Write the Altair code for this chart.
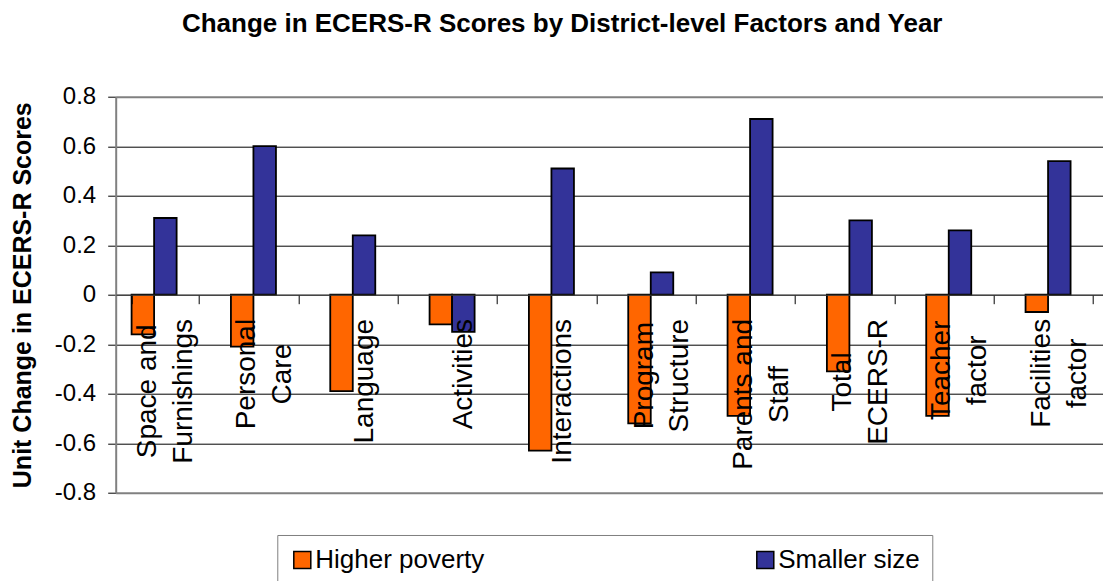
import altair as alt
import pandas as pd

FONT = "Liberation Sans"
LABEL_SIZE = 28

# Category labels, one list of lines per category
category_lines = [
    ["Space and", "Furnishings"],
    ["Personal", "Care"],
    ["Language"],
    ["Activities"],
    ["Interactions"],
    ["Program", "Structure"],
    ["Parents and", "Staff"],
    ["Total", "ECERS-R"],
    ["Teacher", "factor"],
    ["Facilities", "factor"],
]

series_names = ["Higher poverty", "Smaller size"]
series_colors = ["#FF6600", "#333399"]

higher_poverty = [-0.16, -0.21, -0.39, -0.12, -0.63, -0.52, -0.49, -0.31, -0.49, -0.07]
smaller_size = [0.31, 0.60, 0.24, -0.15, 0.51, 0.09, 0.71, 0.30, 0.26, 0.54]

y_ticks = [-0.8, -0.6, -0.4, -0.2, 0, 0.2, 0.4, 0.6, 0.8]

# Arial / Liberation Sans advance widths (1/1000 em); the rotated labels are
# centred lines whose longest line starts just below the zero line.
ADVANCE = {
    " ": 278, "-": 333, "A": 667, "C": 722, "E": 667, "F": 611, "I": 278,
    "L": 556, "P": 667, "R": 722, "S": 667, "T": 611, "a": 556, "c": 500,
    "d": 556, "e": 556, "f": 278, "g": 556, "h": 556, "i": 222, "l": 222,
    "m": 833, "n": 556, "o": 556, "p": 556, "r": 333, "s": 500, "t": 278,
    "u": 556, "v": 500, "y": 500,
}


def text_px(s, size):
    return sum(ADVANCE.get(ch, 556) for ch in s) * size / 1000


categories = ["|".join(lines) for lines in category_lines]

rows = []
for cat, hp, ss in zip(categories, higher_poverty, smaller_size):
    rows.append({"category": cat, "series": series_names[0], "value": hp})
    rows.append({"category": cat, "series": series_names[1], "value": ss})
df = pd.DataFrame(rows)

# distance from tick end to the centre of each rotated label block
label_gap = 14.7
padding_conditions = [
    {
        "test": f"datum.value === '{cat}'",
        "value": round(label_gap + max(text_px(l, LABEL_SIZE) for l in lines) / 2, 1),
    }
    for cat, lines in zip(categories, category_lines)
]
line_height = 36
offset_condition = {
    "condition": {"test": "isValid(datum.value) && indexof(datum.value, '|') >= 0",
                  "value": -line_height / 2},
    "value": 0,
}

border_test = "abs(datum.value) > 0.79"

chart = (
    alt.Chart(df)
    .mark_bar(stroke="black", strokeWidth=1.8)
    .encode(
        x=alt.X(
            "category:N",
            sort=categories,
            scale=alt.Scale(
                domain=categories,
                range=[0, 993.3],
                paddingInner=0.32,
                paddingOuter=0.16,
            ),
            axis=alt.Axis(
                title=None,
                offset=-198,
                labelAngle=270,
                labelAlign="center",
                labelBaseline="middle",
                labelExpr="isValid(datum.value) ? split(datum.value, '|') : ''",
                labelFont=FONT,
                labelFontSize=LABEL_SIZE,
                labelLineHeight=line_height,
                labelPadding={"condition": padding_conditions, "value": label_gap},
                labelOffset=offset_condition,
                labelColor="black",
                labelLimit=400,
                labelOverlap=False,
                labelBound=False,
                tickBand="extent",
                tickSize=9,
                tickColor="black",
                tickWidth=1,
                domainColor="#404040",
                domainWidth=1,
                grid=False,
                zindex=1,
            ),
        ),
        xOffset=alt.XOffset(
            "series:N",
            scale=alt.Scale(domain=series_names + ["(none)"]),
        ),
        y=alt.Y(
            "value:Q",
            scale=alt.Scale(domain=[-0.8, 0.8], nice=False),
            axis=alt.Axis(
                title="Unit Change in ECERS-R Scores",
                titleFont=FONT,
                titleFontSize=25,
                titleFontWeight="bold",
                titleColor="black",
                titleX=-80,
                titleY=198,
                values=y_ticks,
                format=".1~f",
                labelExpr="replace(datum.label, '\u2212', '-')",
                labelFont=FONT,
                labelFontSize=24,
                labelColor="black",
                labelPadding=12,
                tickSize=8,
                tickColor="black",
                domainColor="#808080",
                domainWidth=2,
                gridColor={"condition": {"test": border_test, "value": "#808080"}, "value": "black"},
                gridWidth={"condition": {"test": border_test, "value": 2}, "value": 1},
            ),
        ),
        color=alt.Color(
            "series:N",
            scale=alt.Scale(domain=series_names, range=series_colors),
            legend=alt.Legend(
                title=None,
                orient="none",
                legendX=161.6,
                legendY=438.3,
                direction="horizontal",
                columns=2,
                columnPadding=267,
                padding=12,
                strokeColor="#808080",
                symbolType="square",
                symbolSize=289,
                symbolStrokeColor="black",
                symbolStrokeWidth=1.5,
                labelFont=FONT,
                labelFontSize=26,
                labelColor="black",
                labelOffset=0,
                labelLimit=400,
            ),
        ),
    )
    .properties(
        width=987,
        height=396,
        autosize=alt.AutoSizeParams(type="none"),
        padding={"left": 115.7, "top": 96.7, "right": 0, "bottom": 88.3},
        title=alt.TitleParams(
            text="Change in ECERS-R Scores by District-level Factors and Year",
            font=FONT,
            fontSize=26,
            fontWeight="bold",
            color="black",
            anchor="middle",
            dx=-47,
            offset=48,
        ),
    )
    .configure_view(stroke=None)
)

chart.save("out.html", embed_options={"renderer": "svg", "actions": False})
